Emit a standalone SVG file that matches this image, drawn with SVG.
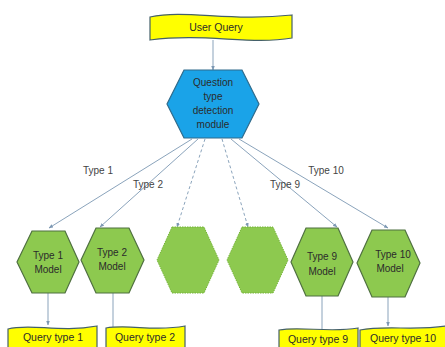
<svg xmlns="http://www.w3.org/2000/svg" width="445" height="347" viewBox="0 0 445 347">
  <defs>
    <marker id="arrow" viewBox="0 0 10 10" refX="9" refY="5" markerWidth="5" markerHeight="5" orient="auto">
      <path d="M0,1 L10,5 L0,9 Z" fill="#7d98b3"/>
    </marker>
  </defs>
  <style>
    text { font-family: "Liberation Sans", Arial, sans-serif; fill: #2b2b2b; text-anchor: middle; }
    .banner { fill: #ffff00; stroke: #44606a; stroke-width: 1.2; }
    .bt { font-size: 10.5px; }
    .blue { fill: #1aa3e8; stroke: #2f6b8c; stroke-width: 1.2; }
    .green { fill: #8dc94f; stroke: #4f7040; stroke-width: 1.2; }
    .ghost { fill: #8dc94f; stroke: #76b43a; stroke-width: 1; stroke-dasharray: 1.5 1; }
    .ht { font-size: 10px; }
    .conn { stroke: #7d98b3; stroke-width: 0.9; fill: none; }
    .dash { stroke-dasharray: 3 2.5; }
    .lbl { font-size: 10px; fill: #444; }
  </style>

  <!-- connectors -->
  <g id="connectors">
    <line class="conn" x1="213" y1="40" x2="213" y2="70" marker-end="url(#arrow)"/>
    <line class="conn" x1="192" y1="139" x2="49" y2="228" marker-end="url(#arrow)"/>
    <line class="conn" x1="198" y1="139" x2="100" y2="227" marker-end="url(#arrow)"/>
    <line class="conn dash" x1="205" y1="139" x2="177" y2="227" marker-end="url(#arrow)"/>
    <line class="conn dash" x1="222" y1="139" x2="248" y2="227" marker-end="url(#arrow)"/>
    <line class="conn" x1="231" y1="139" x2="337" y2="227" marker-end="url(#arrow)"/>
    <line class="conn" x1="239" y1="139" x2="388" y2="228" marker-end="url(#arrow)"/>
    <line class="conn" x1="48" y1="293" x2="48" y2="325" marker-end="url(#arrow)"/>
    <line class="conn" x1="113" y1="293" x2="113" y2="327"/>
    <line class="conn" x1="322" y1="296" x2="322" y2="329"/>
    <line class="conn" x1="388" y1="297" x2="388" y2="326" marker-end="url(#arrow)"/>
    <text class="lbl" x="98" y="174">Type 1</text>
    <text class="lbl" x="148" y="188">Type 2</text>
    <text class="lbl" x="285" y="188">Type 9</text>
    <text class="lbl" x="326" y="174">Type 10</text>
  </g>

  <!-- user query banner -->
  <g id="user-query">
    <path class="banner" d="M150,17 C185,9 230,22 292,15 L292,38 C250,45 205,33 150,40 Z"/>
    <text class="bt" x="216" y="31">User Query</text>
  </g>

  <!-- question type detection module -->
  <g id="detection-module">
    <polygon class="blue" points="184,70 242,70 259,104 242,138 184,138 167,104"/>
    <text class="ht" x="213" y="86">Question</text>
    <text class="ht" x="213" y="100">type</text>
    <text class="ht" x="213" y="114">detection</text>
    <text class="ht" x="213" y="128">module</text>
  </g>

  <!-- model hexagons -->
  <g id="type1-model">
    <polygon class="green" points="32,231 65,231 79,262 65,293 32,293 17,262"/>
    <text class="ht" x="48" y="259">Type 1</text>
    <text class="ht" x="48" y="273">Model</text>
  </g>
  <g id="type2-model">
    <polygon class="green" points="96,228 129,228 144,260 129,293 96,293 81,260"/>
    <text class="ht" x="112" y="256">Type 2</text>
    <text class="ht" x="112" y="270">Model</text>
  </g>
  <g id="model-placeholder-a">
    <polygon class="ghost" points="172,227 204,227 219,260 204,293 172,293 157,260"/>
  </g>
  <g id="model-placeholder-b">
    <polygon class="ghost" points="242,227 273,227 288,260 273,293 242,293 227,260"/>
  </g>
  <g id="type9-model">
    <polygon class="green" points="306,228 338,228 353,262 338,296 306,296 291,262"/>
    <text class="ht" x="322" y="260">Type 9</text>
    <text class="ht" x="322" y="275">Model</text>
  </g>
  <g id="type10-model">
    <polygon class="green" points="372,230 405,230 420,263 405,297 372,297 357,263"/>
    <text class="ht" x="393" y="258">Type 10</text>
    <text class="ht" x="390" y="272">Model</text>
  </g>

  <!-- output banners -->
  <g id="query-type1">
    <path class="banner" d="M8,329 C30,323 60,333 97,326 L97,348 L8,348 Z"/>
    <text class="bt" x="53" y="341">Query  type 1</text>
  </g>
  <g id="query-type2">
    <path class="banner" d="M106,328 C130,324 155,332 185,326 L185,348 L106,348 Z"/>
    <text class="bt" x="145" y="341">Query  type 2</text>
  </g>
  <g id="query-type9">
    <path class="banner" d="M279,330 C300,326 330,333 358,328 L358,348 L279,348 Z"/>
    <text class="bt" x="318" y="343">Query  type 9</text>
  </g>
  <g id="query-type10">
    <path class="banner" d="M360,330 C385,325 415,331 446,326 L446,348 L360,348 Z"/>
    <text class="bt" x="403" y="342">Query  type 10</text>
  </g>
</svg>
